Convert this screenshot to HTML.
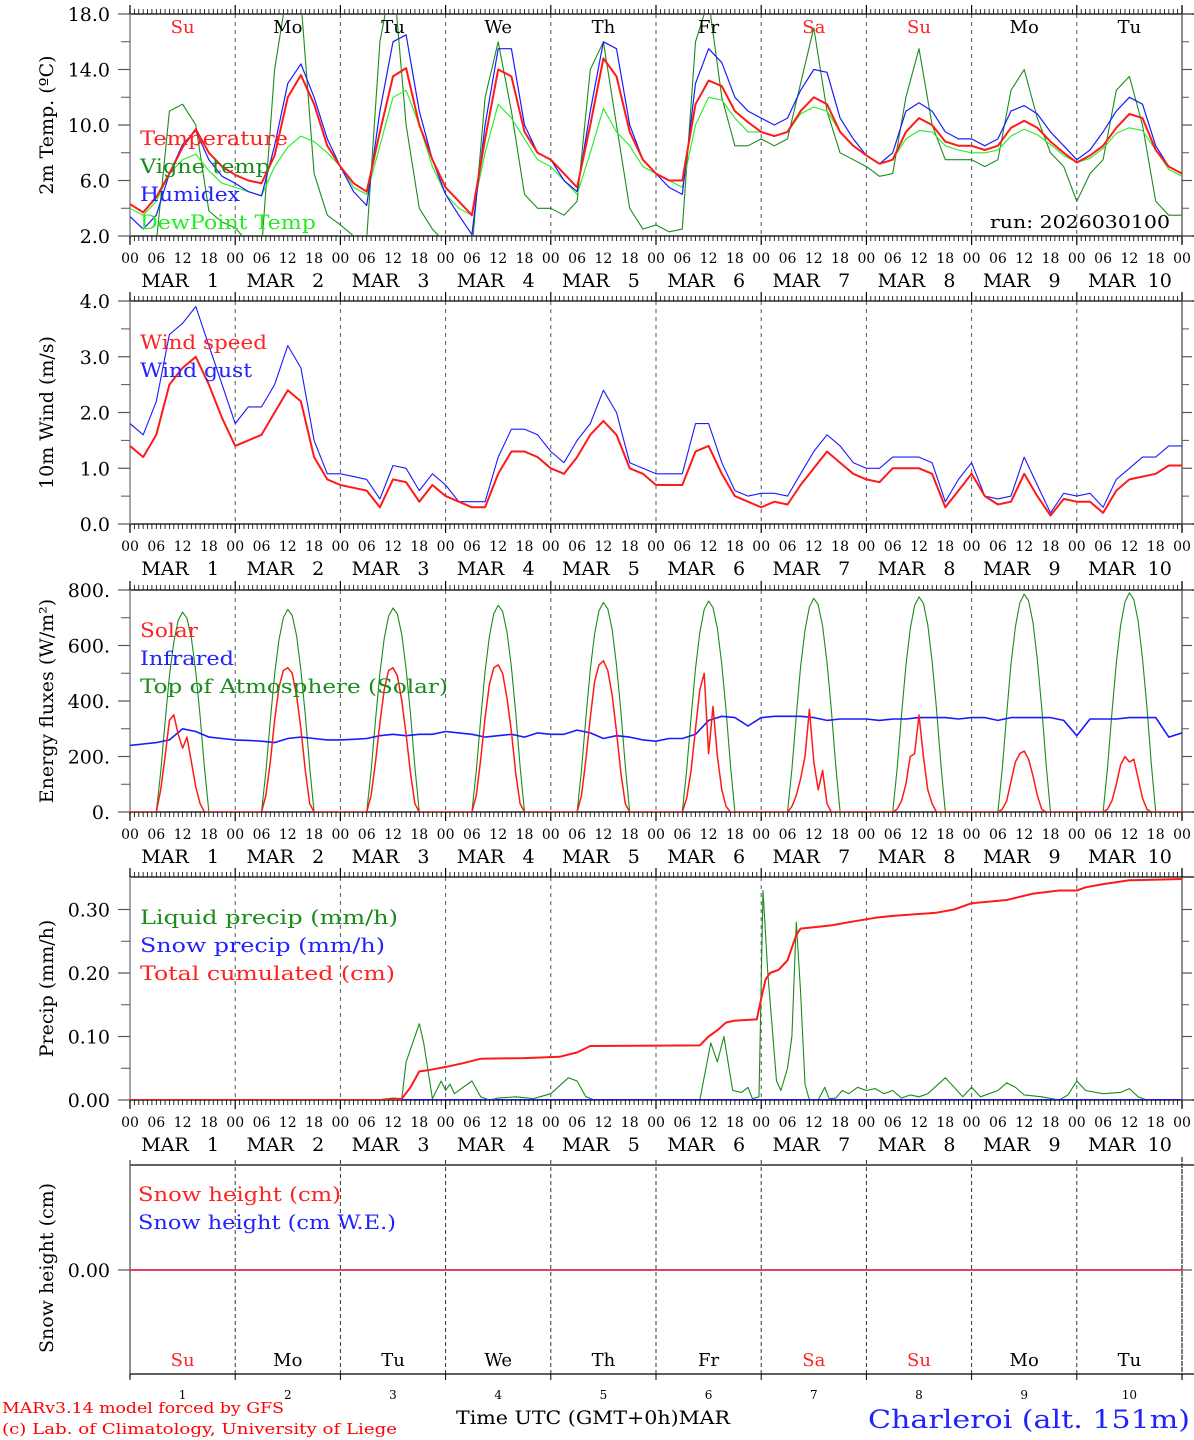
<!DOCTYPE html>
<html><head><meta charset="utf-8"><style>
html,body{margin:0;padding:0;background:#fff;}
svg{display:block;font-family:"DejaVu Serif","Liberation Serif",serif;}
</style></head><body>
<svg id="chart" width="1194" height="1440" viewBox="0 0 1194 1440" xmlns="http://www.w3.org/2000/svg">
<rect width="1194" height="1440" fill="#fff"/>
<text x="2" y="1413" font-size="14.5" fill="#f00" textLength="282" lengthAdjust="spacingAndGlyphs">MARv3.14 model forced by GFS</text>
<text x="2" y="1434" font-size="14.5" fill="#f00" textLength="395" lengthAdjust="spacingAndGlyphs">(c) Lab. of Climatology, University of Liege</text>
<text x="456" y="1424" font-size="19" fill="#000" textLength="274" lengthAdjust="spacingAndGlyphs">Time UTC (GMT+0h)MAR</text>
<text x="868" y="1428" font-size="25" fill="#22f" textLength="322" lengthAdjust="spacingAndGlyphs">Charleroi (alt. 151m)</text>
<text x="990" y="228" font-size="18" fill="#000" textLength="180" lengthAdjust="spacingAndGlyphs">run: 2026030100</text>
</svg>
<script>
// ---- data (3-hourly, from 00 UTC Mar 1) ----
const dayNames = ["Su","Mo","Tu","We","Th","Fr","Sa","Su","Mo","Tu"];
const dayNums = ["1","2","3","4","5","6","7","8","9","10"];
const hourLabels = ["00","06","12","18"];
const tempVals = [4.3,3.7,4.8,6.5,8.4,9.7,8.0,7.0, 6.4,6.0,5.8,7.8,12.0,13.6,11.5,8.5, 7.0,5.8,5.2,9.5,13.5,14.1,10.0,7.5, 5.5,4.5,3.5,9.0,14.0,13.5,9.5,8.0, 7.5,6.5,5.5,10.0,14.8,13.5,9.5,7.5, 6.5,6.0,6.0,11.5,13.2,12.8,11.0,10.2, 9.5,9.2,9.5,11.0,12.0,11.5,9.5,8.5, 7.8,7.2,7.5,9.5,10.5,10.0,8.8,8.5, 8.5,8.2,8.5,9.8,10.3,9.8,8.8,8.0, 7.3,7.8,8.5,9.8,10.8,10.5,8.2,7.0, 6.5];
const humidexVals = [3.4,2.5,3.5,6.5,8.6,9.6,7.5,6.3, 5.8,5.2,4.9,8.5,13.0,14.4,12,9, 7,5.2,4.2,11,16,16.5,11,7.5, 5,3.5,2.1,10,15.5,15.5,10,8, 7.5,6,5.2,11,16,15.5,10,7.5, 6.5,5.5,5,13,15.5,14.5,12,11, 10.5,10,10.5,12.5,14,13.8,10.5,9, 7.8,7.2,8,11,11.6,11,9.5,9, 9,8.5,9,11,11.4,10.8,9.5,8.5, 7.5,8.2,9.5,11,12,11.5,8.5,7, 6.5];
const dewVals = [4,3.5,4.5,6.5,7.5,7.9,6.7,5.8, 5.5,5.2,4.9,7,8.4,9.2,8.8,8, 7,5.5,5,8.5,12,12.5,10,7, 5,4,3.5,8,11.5,10.5,9,7.5, 7,6,5,8,11.2,9.5,8.5,7, 6.5,6,5.5,10,12,11.8,10.5,9.5, 9.5,9.2,9.5,10.8,11.3,11,9.5,8.5, 7.8,7.2,7.5,9,9.6,9.5,8.5,8.2, 8,8,8.2,9.2,9.7,9.3,8.6,7.8, 7.3,7.6,8.3,9.4,9.8,9.6,8.2,6.8, 6.3];
const vigneVals = [1,0.5,1.5,11,11.5,10,3.8,3, 2.6,1.5,1,14,20,19,6.5,3.5, 2.8,2,1.8,16,21,10,4,2.5, 1.5,1,1,12,16,11,5,4, 4,3.5,4.5,14,16,10,4,2.5, 2.8,2.3,2.5,16,19,12,8.5,8.5, 9,8.5,9,13,17,11,8,7.5, 7,6.3,6.5,12,15.5,10,7.5,7.5, 7.5,7,7.5,12.5,14,10.5,8,7, 4.5,6.5,7.5,12.5,13.5,10,4.5,3.5, 3.5];
const windVals = [1.4,1.2,1.6,2.5,2.8,3.0,2.5,1.9, 1.4,1.5,1.6,2.0,2.4,2.2,1.2,0.8, 0.7,0.65,0.6,0.3,0.8,0.75,0.4,0.7, 0.5,0.4,0.3,0.3,0.9,1.3,1.3,1.2, 1.0,0.9,1.2,1.6,1.85,1.6,1.0,0.9, 0.7,0.7,0.7,1.3,1.4,0.9,0.5,0.4, 0.3,0.4,0.35,0.7,1.0,1.3,1.1,0.9, 0.8,0.75,1.0,1.0,1.0,0.9,0.3,0.6, 0.9,0.5,0.35,0.4,0.9,0.5,0.15,0.45, 0.4,0.4,0.2,0.6,0.8,0.85,0.9,1.05, 1.05];
const gustVals = [1.8,1.6,2.2,3.4,3.6,3.9,3.2,2.5, 1.8,2.1,2.1,2.5,3.2,2.8,1.5,0.9, 0.9,0.85,0.8,0.45,1.05,1.0,0.6,0.9, 0.7,0.4,0.4,0.4,1.2,1.7,1.7,1.6, 1.3,1.1,1.5,1.8,2.4,2.0,1.1,1.0, 0.9,0.9,0.9,1.8,1.8,1.1,0.6,0.5, 0.55,0.55,0.5,0.9,1.3,1.6,1.4,1.1, 1.0,1.0,1.2,1.2,1.2,1.1,0.4,0.8, 1.1,0.5,0.45,0.5,1.2,0.7,0.2,0.55, 0.5,0.55,0.3,0.8,1.0,1.2,1.2,1.4, 1.4];
const infraredVals = [240,245,250,260,300,290,270,265, 260,258,255,250,265,270,265,260, 260,262,265,275,280,275,280,280, 290,285,280,270,275,280,270,285, 280,280,295,285,265,275,270,260, 255,265,265,280,330,345,340,310, 340,345,345,345,340,330,335,335, 335,330,335,335,340,340,340,335, 340,340,330,340,340,340,340,330, 275,335,335,335,340,340,340,270, 285];
// hourly daytime values, hours 06..18 of each day (0 otherwise)
const toaDaily = [
[0,144,324,490,612,691,720,698,626,504,346,158,0],
[0,146,329,496,621,701,730,708,635,511,350,161,0],
[0,147,331,500,625,706,735,713,639,515,353,162,0],
[0,149,335,507,633,715,745,723,648,522,358,164,0],
[0,151,340,513,642,725,755,732,657,529,362,166,0],
[0,152,342,517,646,730,760,737,661,532,365,167,0],
[0,154,347,524,655,739,770,747,670,539,370,169,0],
[0,155,349,527,659,744,775,752,674,543,372,171,0],
[0,157,353,534,667,754,785,761,683,550,377,173,0],
[0,158,356,537,672,758,790,766,687,553,379,174,0]];
const solarDaily = [
[0,80,200,330,350,280,230,270,180,90,30,0,0],
[0,60,180,330,450,510,520,500,420,300,150,30,0],
[0,60,180,320,440,510,520,490,400,280,140,30,0],
[0,60,190,340,460,520,530,500,410,290,140,30,0],
[0,60,190,340,470,530,545,510,420,290,140,30,0],
[0,50,150,300,440,500,210,380,200,80,20,0,0],
[0,20,60,120,200,370,180,80,150,30,0,0,0],
[0,10,40,100,200,210,350,200,80,30,0,0,0],
[0,10,40,110,180,210,220,190,130,60,10,0,0],
[0,10,40,100,170,200,180,190,120,50,10,0,0]];
// precipitation: [hour, value]
const liquidPts = [[0,0],[56,0],[60,0.003],[62,0.002],[63,0.06],[66,0.12],[67,0.09],[69,0.002],[71,0.03],[72,0.015],[73,0.025],[74,0.01],[76,0.02],[78,0.03],[80,0.005],[82,0],[84,0.003],[88,0.005],[92,0.002],[96,0.01],[100,0.035],[102,0.03],[104,0.005],[106,0],[130,0],[132.5,0.09],[134,0.06],[135.5,0.1],[137.5,0.015],[139.5,0.012],[141,0.02],[142,0.002],[143.5,0.005],[144.4,0.33],[145.5,0.2],[147.5,0.03],[148.5,0.015],[150,0.05],[151,0.1],[152,0.28],[153,0.17],[154,0.025],[155,0],[157,0],[158.5,0.02],[159.5,0.002],[161,0.003],[162.5,0.015],[164,0.01],[166,0.02],[168,0.015],[170,0.018],[172,0.01],[174,0.015],[176,0.003],[178,0.008],[180,0.005],[182,0.01],[186,0.035],[188,0.02],[190,0.005],[192,0.02],[194,0.005],[198,0.015],[200,0.027],[202,0.02],[204,0.008],[208,0.005],[212,0],[214,0.008],[216,0.03],[218,0.015],[222,0.01],[226,0.012],[228,0.018],[230,0.005],[232,0],[240,0]];
const totalPts = [[0,0],[58,0],[62,0.002],[64,0.02],[66,0.045],[68,0.047],[72,0.052],[76,0.058],[80,0.065],[90,0.066],[98,0.068],[102,0.075],[105,0.085],[130,0.086],[132,0.1],[134,0.11],[136,0.122],[138,0.125],[143,0.127],[144,0.16],[145,0.19],[146,0.2],[148,0.205],[150,0.22],[151,0.24],[152,0.26],[153,0.27],[156,0.272],[160,0.275],[164,0.28],[170,0.287],[174,0.29],[184,0.295],[188,0.3],[192,0.31],[200,0.315],[206,0.325],[212,0.33],[216,0.33],[218,0.335],[222,0.34],[228,0.346],[240,0.348]];
const snowPts = [[0,0],[240,0]];
const snowHeightPts = [[0,0],[240,0]];

// ---- drawing ----
const NS="http://www.w3.org/2000/svg";
const svg=document.getElementById("chart");
const X0=130,X1=1182;
const xs=h=>X0+h*(X1-X0)/240;
function el(tag,attrs,parent){const e=document.createElementNS(NS,tag);for(const k in attrs)e.setAttribute(k,attrs[k]);(parent||svg).appendChild(e);return e;}
function txt(s,attrs,parent){const e=el("text",attrs,parent);e.textContent=s;return e;}

const panels=[
 {name:"temperature",top:14,bot:236,min:2,max:18,major:[2,6,10,14,18],minor:[4,8,12,16],fmt:v=>v.toFixed(1),title:"2m Temp. (ºC)"},
 {name:"wind",top:301,bot:524,min:0,max:4,major:[0,1,2,3,4],minor:[0.5,1.5,2.5,3.5],fmt:v=>v.toFixed(1),title:"10m Wind (m/s)"},
 {name:"energy",top:590,bot:812,min:0,max:800,major:[0,200,400,600,800],minor:[100,300,500,700],fmt:v=>v+".",title:"Energy fluxes (W/m²)"},
 {name:"precip",top:877,bot:1100,min:0,max:0.3512,major:[0,0.1,0.2,0.3],minor:[0.05,0.15,0.25],fmt:v=>v.toFixed(2),title:"Precip (mm/h)"}
];
function ysFor(p){return v=>p.bot-(v-p.min)*(p.bot-p.top)/(p.max-p.min);}

panels.forEach((p,pi)=>{
 const g=el("g",{});
 
 
 const ys=ysFor(p);
 for(let d=1;d<10;d++){const l=el("line",{x1:xs(d*24),x2:xs(d*24),y1:p.top,y2:p.bot,stroke:"#555","stroke-width":1,"stroke-dasharray":"4,4"},g);
  }
 el("line",{x1:X0,x2:X1+12,y1:p.top,y2:p.top,stroke:"#000","stroke-width":1.2},g);
 el("line",{x1:X0,x2:X1+12,y1:p.bot,y2:p.bot,stroke:"#000","stroke-width":1.2},g);
 el("line",{x1:X0,x2:X0,y1:p.top-2,y2:p.bot+2,stroke:"#888","stroke-width":1.5},g);
 el("line",{x1:X1,x2:X1,y1:p.top-8,y2:p.bot+8,stroke:"#444","stroke-width":1.2},g);
 for(let h=0;h<=240;h++){const big=h%24===0;const len=big?9:5;const x=xs(h);
  el("line",{x1:x,x2:x,y1:p.top,y2:p.top-len,stroke:"#000","stroke-width":big?1.2:0.8},g);
  el("line",{x1:x,x2:x,y1:p.bot,y2:p.bot+len,stroke:"#000","stroke-width":big?1.2:0.8},g);}
 p.major.forEach(v=>{const y=ys(v);el("line",{x1:X0-12,x2:X0,y1:y,y2:y,stroke:"#555","stroke-width":1.2},g);
  el("line",{x1:X1,x2:X1+10,y1:y,y2:y,stroke:"#555","stroke-width":1.2},g);
  const t=txt(p.fmt(v),{x:110,y:y+7,"font-size":19,"text-anchor":"end",fill:"#000"},g);
  });
 p.minor.forEach(v=>{const y=ys(v);el("line",{x1:X0-9,x2:X0,y1:y,y2:y,stroke:"#555","stroke-width":1},g);
  el("line",{x1:X1,x2:X1+7,y1:y,y2:y,stroke:"#555","stroke-width":1},g);});
 const cy=(p.top+p.bot)/2;
 const yt=txt(p.title,{x:0,y:0,"font-size":19,"text-anchor":"middle",fill:"#000",transform:`translate(53,${cy}) rotate(-90)`},g);
 
 for(let d=0;d<=10;d++){for(let k=0;k<4;k++){if(d===10&&k>0)break;const h=d*24+k*6;
  const t=txt(hourLabels[k],{x:xs(h),y:p.bot+27,"font-size":14,"text-anchor":"middle",fill:"#000"},g);
  }}
 for(let d=0;d<10;d++){const dx=xs(d*24);
  const t=txt("MAR",{x:dx+35,y:p.bot+51,"font-size":19,"text-anchor":"middle",fill:"#000"},g);
  
  const n=txt(dayNums[d],{x:dx+83,y:p.bot+51,"font-size":19,"text-anchor":"middle",fill:"#000"},g);
  }
 const cp=el("clipPath",{id:"clip"+pi},g);el("rect",{x:X0,y:p.top,width:X1-X0,height:p.bot-p.top},cp);
 p.g=g;p.ys=ys;
});

function seriesPath(p,pts,color,w,name){
 const d=pts.map((q,i)=>(i?"L":"M")+xs(q[0]).toFixed(1)+","+p.ys(q[1]).toFixed(1)).join("");
 const path=el("path",{d:d,fill:"none",stroke:color,"stroke-width":w,"stroke-linejoin":"round","clip-path":`url(#clip${panels.indexOf(p)})`},p.g);
 
 
}
const threeH=arr=>arr.map((v,i)=>[i*3,v]);
function dailyHourly(rows){const out=[];for(let d=0;d<10;d++){out.push([d*24,0]);rows[d].forEach((v,k)=>out.push([d*24+6+k,v]));}out.push([240,0]);return out;}
function legend(p,x,y0,items){items.forEach((it,i)=>{const t=txt(it[0],{x:x,y:y0+i*28,"font-size":19.5,fill:it[1],textLength:it[2],lengthAdjust:"spacingAndGlyphs"},p.g);
 });}

const P=panels;
seriesPath(P[0],threeH(vigneVals),"#1a8c1a",1.1,"vigne-temp-line");
seriesPath(P[0],threeH(dewVals),"#22ee22",1.1,"dewpoint-line");
seriesPath(P[0],threeH(humidexVals),"#1a1aff",1.2,"humidex-line");
seriesPath(P[0],threeH(tempVals),"#ff1a1a",2,"temperature-line");
legend(P[0],140,145,[["Temperature","#f22",148],["Vigne temp","#1a8c1a",130],["Humidex","#22f",100],["DewPoint Temp","#2e2",176]]);
for(let d=0;d<10;d++){const t=txt(dayNames[d],{x:xs(d*24+12),y:33,"font-size":18,"text-anchor":"middle",fill:(dayNames[d]==="Su"||dayNames[d]==="Sa")?"#f22":"#000"},P[0].g);
 }
seriesPath(P[1],threeH(gustVals),"#1a1aff",1.1,"wind-gust-line");
seriesPath(P[1],threeH(windVals),"#ff1a1a",2,"wind-speed-line");
legend(P[1],140,349,[["Wind speed","#f22",127],["Wind gust","#22f",112]]);
seriesPath(P[2],dailyHourly(toaDaily),"#1a8c1a",1.1,"toa-solar-line");
seriesPath(P[2],threeH(infraredVals),"#1a1aff",1.6,"infrared-line");
seriesPath(P[2],dailyHourly(solarDaily),"#ff1a1a",1.5,"solar-line");
legend(P[2],140,637,[["Solar","#f22",58],["Infrared","#22f",94],["Top of Atmosphere (Solar)","#1a8c1a",308]]);
seriesPath(P[3],liquidPts,"#1a8c1a",1.1,"liquid-precip-line");
seriesPath(P[3],snowPts,"#1a1aff",2,"snow-precip-line");
seriesPath(P[3],totalPts,"#ff1a1a",2,"total-cumulated-line");
legend(P[3],140,924,[["Liquid precip (mm/h)","#1a8c1a",258],["Snow precip (mm/h)","#22f",245],["Total cumulated (cm)","#f22",255]]);

const g5=el("g",{});


const s5={top:1165,bot:1374,zero:1270};
for(let d=1;d<10;d++){const l=el("line",{x1:xs(d*24),x2:xs(d*24),y1:s5.top-5,y2:s5.bot,stroke:"#333","stroke-width":1,"stroke-dasharray":"4,3"},g5);
 }
el("line",{x1:X0,x2:1194,y1:s5.top,y2:s5.top,stroke:"#000","stroke-width":1.2},g5);
el("line",{x1:X0,x2:1194,y1:s5.bot,y2:s5.bot,stroke:"#000","stroke-width":1.2},g5);
el("line",{x1:X0,x2:X0,y1:s5.top-5,y2:s5.bot+4,stroke:"#555","stroke-width":1.3},g5);
el("line",{x1:X1,x2:X1,y1:s5.top-8,y2:s5.bot+6,stroke:"#333","stroke-width":1.3,"stroke-dasharray":"5,1"},g5);
for(let d=0;d<=10;d++){const x=xs(d*24);el("line",{x1:x,x2:x,y1:s5.bot,y2:s5.bot+6,stroke:"#000","stroke-width":1},g5);}
el("line",{x1:X0-12,x2:X0,y1:s5.zero,y2:s5.zero,stroke:"#555","stroke-width":1.2},g5);
el("line",{x1:X1,x2:X1+10,y1:s5.zero,y2:s5.zero,stroke:"#555","stroke-width":1.2},g5);
const z=txt("0.00",{x:110,y:s5.zero+7,"font-size":19,"text-anchor":"end",fill:"#000"},g5);

const yt5=txt("Snow height (cm)",{x:0,y:0,"font-size":19,"text-anchor":"middle",fill:"#000",transform:"translate(53,1268) rotate(-90)"},g5);

const ys5=v=>s5.zero-v*600;
[[snowPts,"#1a1aff","snow-we-line"],[snowHeightPts,"#ff2a2a","snow-height-line"]].forEach(s=>{
 const d=s[0].map((q,i)=>(i?"L":"M")+xs(q[0]).toFixed(1)+","+ys5(q[1]).toFixed(1)).join("");
 const pth=el("path",{d:d,fill:"none",stroke:s[1],"stroke-width":1.6},g5);
 });
[["Snow height (cm)","#f22",203],["Snow height (cm W.E.)","#22f",258]].forEach((it,i)=>{const t=txt(it[0],{x:138,y:1201+i*28,"font-size":19.5,fill:it[1],textLength:it[2],lengthAdjust:"spacingAndGlyphs"},g5);
 });
for(let d=0;d<10;d++){const t=txt(dayNames[d],{x:xs(d*24+12),y:1366,"font-size":18,"text-anchor":"middle",fill:(dayNames[d]==="Su"||dayNames[d]==="Sa")?"#f22":"#000"},g5);
 
 const n=txt(dayNums[d],{x:xs(d*24+12),y:1399,"font-size":12,"text-anchor":"middle",fill:"#000"},g5);
 }
</script>
</body></html>
